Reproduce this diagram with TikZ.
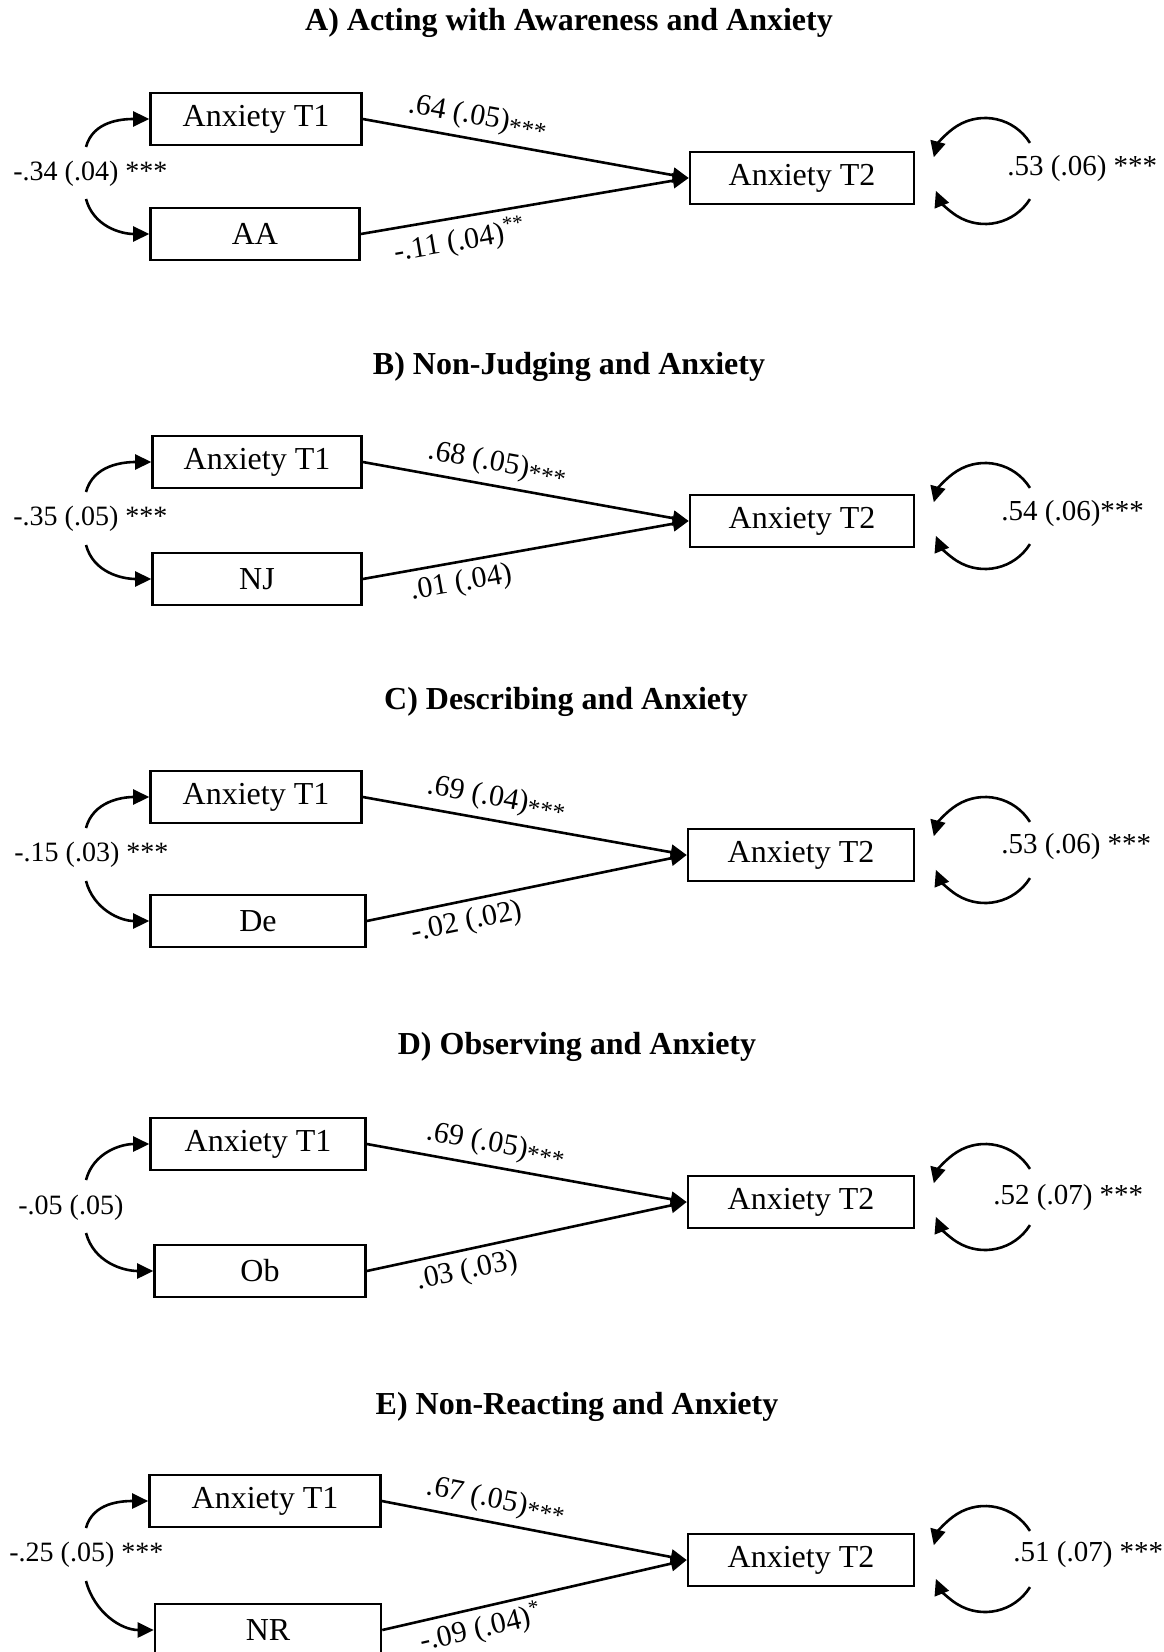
\documentclass[tikz,border=0pt]{standalone}
\usepackage{fontspec}
\setmainfont{Liberation Serif}
\usepackage{tikz}
\usetikzlibrary{arrows.meta}

\newcommand{\pstars}[1]{\raisebox{-2pt}{\fontsize{12.5}{14}\selectfont#1}}

\begin{document}
\begin{tikzpicture}[x=0.5pt, y=0.5pt, font=\fontsize{16}{19}\selectfont,
  var/.style={draw, line width=1.3pt, minimum height=26pt, inner sep=0pt},
  reg/.style={line width=1.3pt, -{Triangle[length=8pt, width=7.5pt]}},
  coef/.style={sloped, inner sep=2pt, font=\fontsize{15}{18}\selectfont},
  cov/.style={anchor=west, inner sep=0pt, font=\fontsize{14}{17}\selectfont},
  res/.style={anchor=west, inner sep=0pt, font=\fontsize{14.5}{17}\selectfont},
  ttl/.style={font=\fontsize{16}{19}\selectfont\bfseries}]

  \useasboundingbox (0,0) rectangle (1163,-1652);

  % A
  \node[ttl] (ttlA) at (569,-23) {A) Acting with Awareness and Anxiety};
  \node[var, minimum width=105.5pt] (t1A) at (256,-119) {Anxiety T1};
  \node[var, minimum width=104.5pt] (aaA) at (255,-234) {AA};
  \node[var, minimum width=112pt]   (t2A) at (802,-178) {Anxiety T2};
  \draw[reg] (t1A.east) -- node[coef, pos=0.34, above=1.5pt] {.64 (.05)\pstars{***}} (t2A.west);
  \draw[reg] (aaA.east) -- node[coef, pos=0.29, below=1.5pt] {-.11 (.04)\textsuperscript{**}} (t2A.west);

  \node[cov] (covA) at (13,-174) {-.34 (.04) ***};
  \coordinate (cA1) at (86,-147);
  \coordinate (cA2) at (86,-199);
  \draw[reg] (cA1) to[out=75, in=180] (t1A.west);
  \draw[reg] (cA2) to[out=-75, in=180] (aaA.west);

  \coordinate (rA) at (985,-171);
  \draw[reg] (rA) ++(32:26.5pt) arc[start angle=32, end angle=165, radius=26.5pt];
  \draw[reg] (rA) ++(-32:26.5pt) arc[start angle=-32, end angle=-158, radius=26.5pt];
  \node[res] (resA) at (1007,-169) {.53 (.06) ***};

  % B
  \node[ttl] (ttlB) at (569,-367) {B) Non-Judging and Anxiety};
  \node[var, minimum width=104.5pt] (t1B) at (257,-462) {Anxiety T1};
  \node[var, minimum width=104.5pt] (njB) at (257,-579) {NJ};
  \node[var, minimum width=112pt]   (t2B) at (802,-521) {Anxiety T2};
  \draw[reg] (t1B.east) -- node[coef, pos=0.40, above=1.5pt] {.68 (.05)\pstars{***}} (t2B.west);
  \draw[reg] (njB.east) -- node[coef, pos=0.29, below=1.5pt] {.01 (.04)} (t2B.west);

  \node[cov] (covB) at (13,-519) {-.35 (.05) ***};
  \coordinate (cB1) at (86,-492);
  \coordinate (cB2) at (86,-545);
  \draw[reg] (cB1) to[out=75, in=180] (t1B.west);
  \draw[reg] (cB2) to[out=-75, in=180] (njB.west);

  \coordinate (rB) at (985,-516);
  \draw[reg] (rB) ++(32:26.5pt) arc[start angle=32, end angle=165, radius=26.5pt];
  \draw[reg] (rB) ++(-32:26.5pt) arc[start angle=-32, end angle=-158, radius=26.5pt];
  \node[res] (resB) at (1001,-514) {.54 (.06)***};

  % C
  \node[ttl] (ttlC) at (566,-702) {C) Describing and Anxiety};
  \node[var, minimum width=105.5pt] (t1C) at (256,-797) {Anxiety T1};
  \node[var, minimum width=107.5pt] (deC) at (258,-921) {De};
  \node[var, minimum width=113pt]   (t2C) at (801,-855) {Anxiety T2};
  \draw[reg] (t1C.east) -- node[coef, pos=0.40, above=1.5pt] {.69 (.04)\pstars{***}} (t2C.west);
  \draw[reg] (deC.east) -- node[coef, pos=0.30, below=1.5pt] {-.02 (.02)} (t2C.west);

  \node[cov] (covC) at (14,-855) {-.15 (.03) ***};
  \coordinate (cC1) at (86,-828);
  \coordinate (cC2) at (86,-881);
  \draw[reg] (cC1) to[out=75, in=180] (t1C.west);
  \draw[reg] (cC2) to[out=-75, in=180] (deC.west);

  \coordinate (rC) at (985,-850);
  \draw[reg] (rC) ++(32:26.5pt) arc[start angle=32, end angle=165, radius=26.5pt];
  \draw[reg] (rC) ++(-32:26.5pt) arc[start angle=-32, end angle=-158, radius=26.5pt];
  \node[res] (resC) at (1001,-847) {.53 (.06) ***};

  % D
  \node[ttl] (ttlD) at (577,-1047) {D) Observing and Anxiety};
  \node[var, minimum width=107.5pt] (t1D) at (258,-1144) {Anxiety T1};
  \node[var, minimum width=105.5pt] (obD) at (260,-1271) {Ob};
  \node[var, minimum width=113pt]   (t2D) at (801,-1202) {Anxiety T2};
  \draw[reg] (t1D.east) -- node[coef, pos=0.39, above=1.5pt] {.69 (.05)\pstars{***}} (t2D.west);
  \draw[reg] (obD.east) -- node[coef, pos=0.30, below=1.5pt] {.03 (.03)} (t2D.west);

  \node[cov] (covD) at (18,-1208) {-.05 (.05)};
  \coordinate (cD1) at (86,-1180);
  \coordinate (cD2) at (86,-1233);
  \draw[reg] (cD1) to[out=75, in=180] (t1D.west);
  \draw[reg] (cD2) to[out=-75, in=180] (obD.west);

  \coordinate (rD) at (985,-1197);
  \draw[reg] (rD) ++(32:26.5pt) arc[start angle=32, end angle=165, radius=26.5pt];
  \draw[reg] (rD) ++(-32:26.5pt) arc[start angle=-32, end angle=-158, radius=26.5pt];
  \node[res] (resD) at (993,-1198) {.52 (.07) ***};

  % E
  \node[ttl] (ttlE) at (577,-1407) {E) Non-Reacting and Anxiety};
  \node[var, minimum width=115.5pt] (t1E) at (265,-1501) {Anxiety T1};
  \node[var, minimum width=113pt]   (nrE) at (268,-1630) {NR};
  \node[var, minimum width=113pt]   (t2E) at (801,-1560) {Anxiety T2};
  \draw[reg] (t1E.east) -- node[coef, pos=0.36, above=1.5pt] {.67 (.05)\pstars{***}} (t2E.west);
  \draw[reg] (nrE.east) -- node[coef, pos=0.31, below=0pt] {-.09 (.04)\textsuperscript{*}} (t2E.west);

  \node[cov] (covE) at (9,-1555) {-.25 (.05) ***};
  \coordinate (cE1) at (86,-1528);
  \coordinate (cE2) at (86,-1581);
  \draw[reg] (cE1) to[out=75, in=180] (t1E.west);
  \draw[reg] (cE2) to[out=-75, in=180] (nrE.west);

  \coordinate (rE) at (985,-1559);
  \draw[reg] (rE) ++(32:26.5pt) arc[start angle=32, end angle=165, radius=26.5pt];
  \draw[reg] (rE) ++(-32:26.5pt) arc[start angle=-32, end angle=-158, radius=26.5pt];
  \node[res] (resE) at (1013,-1555) {.51 (.07) ***};

\end{tikzpicture}
\end{document}
